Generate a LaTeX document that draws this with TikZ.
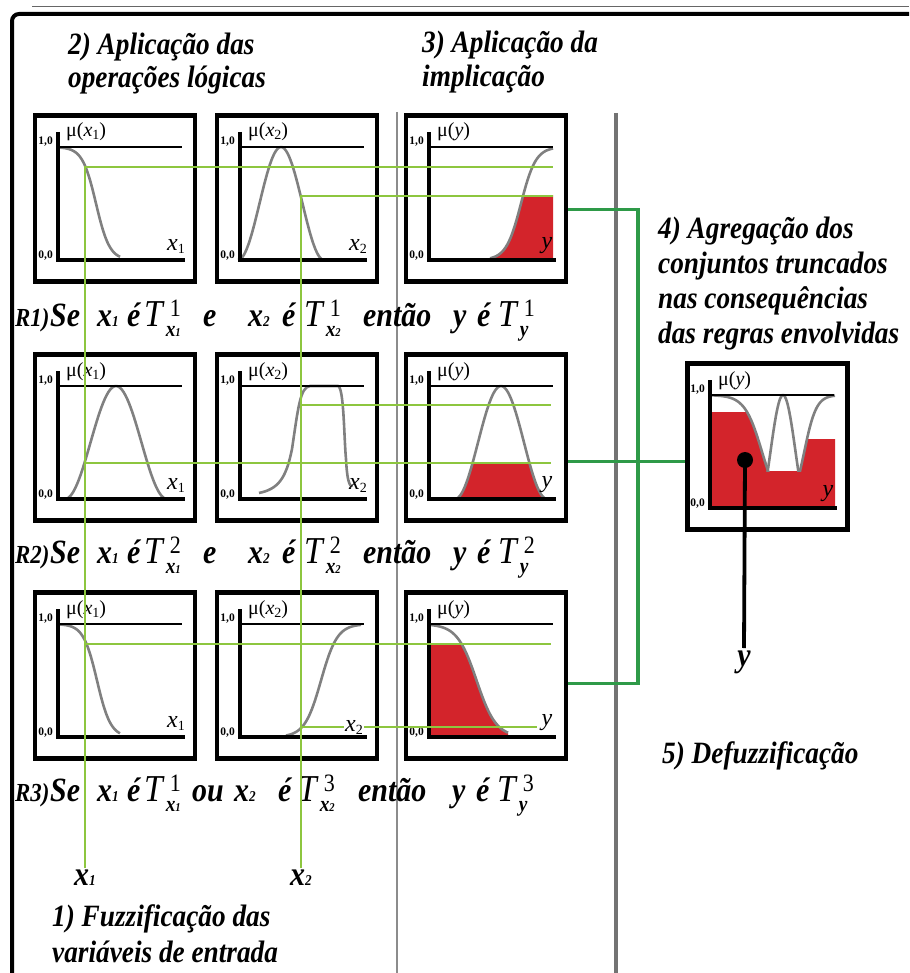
\documentclass[tikz,border=0pt]{standalone}
\usepackage{fontspec}
\setmainfont{Liberation Serif}
\newfontfamily\cond[FakeStretch=0.88]{Liberation Serif}
\usetikzlibrary{positioning}

\definecolor{lgreen}{RGB}{141,198,63}
\definecolor{dgreen}{RGB}{46,154,72}
\definecolor{fred}{RGB}{211,36,43}
\definecolor{cgray}{RGB}{128,128,128}

% pieces of the rule lines
\newcommand{\xin}[1]{x{\fontsize{15}{15}\selectfont #1}}
\newcommand{\xsb}[1]{{\fontsize{22}{22}\selectfont x\fontsize{12}{12}\selectfont #1}}
\newcommand{\Tset}[2]{{\fontsize{38}{38}\selectfont\mdseries T}\kern3pt\rlap{\kern4pt\raisebox{10pt}{\fontsize{25}{25}\selectfont\mdseries\upshape #1}}\raisebox{-10pt}{#2}}
\newcommand{\vsub}[2]{\textit{#1}\raisebox{-3pt}{\fontsize{14}{14}\selectfont #2}}

% axes of one small plot: name, mu label, axis label, width of the 1,0 line
\newcommand{\plotaxes}[4]{%
  \draw[line width=4pt] (0,-128) -- (0,0) -- (127,0);
  \draw[line width=#4] (1,-113) -- (124,-113);
  \node[tick, anchor=east] (#1-one) at (-5,-118) {1,0};
  \node[tick, anchor=east] (#1-zero) at (-5,-4) {0,0};
  \node[mulbl, anchor=base west] (#1-mu) at (8,-123) {#2};
  \node[varlbl] (#1-var) at (118,-14) {#3};
}

\begin{document}
\begin{tikzpicture}[x=1pt, y=-1pt,
    declare function={sgdn(\u,\c,\s)=113/(1+exp((\u-\c)/\s));
                      sgup(\u,\c,\s)=113/(1+exp((\c-\u)/\s));
                      bell(\u,\c,\w)=56.5*(1+cos(180*(\u-\c)/\w));},
    panel/.style={draw, line width=4.5pt, minimum width=160pt, minimum height=166pt, inner sep=0pt},
    curve/.style={cgray, line width=2.6pt},
    tick/.style={font=\fontsize{11.5}{12}\selectfont\bfseries, inner sep=0pt},
    mulbl/.style={font=\fontsize{20}{20}\selectfont, inner sep=0pt},
    varlbl/.style={font=\fontsize{24}{24}\selectfont, inner sep=1pt},
    ttl/.style={font=\fontsize{31}{33}\selectfont\cond\bfseries\itshape, align=left, inner sep=0pt, anchor=base west},
    rulelbl/.style={font=\fontsize{34}{34}\selectfont\cond\bfseries\itshape, inner sep=0pt, anchor=base west},
    inlbl/.style={font=\fontsize{34}{34}\selectfont\cond\bfseries\itshape, inner sep=1pt},
    cut/.style={lgreen, line width=2.8pt},
    conn/.style={dgreen, line width=3.8pt},
    septhin/.style={draw=black!45, line width=2pt},
    septhick/.style={draw=black!55, line width=3.5pt},
    dot/.style={circle, fill=black, minimum size=16pt, inner sep=0pt}
]
\useasboundingbox (0,0) rectangle (909,973);

% frame
\draw[black!60, line width=1pt] (32,7) -- (909,7);
\draw[line width=4pt, rounded corners=7pt] (909,14) -- (12,14) -- (12,973);
\draw[septhin] (397,112) -- (397,973);
\draw[septhick] (616,113) -- (616,973);

% titles (base = last line)
\node[ttl] (t2) at (68,88) {2) Aplicação das\\operações lógicas};
\node[ttl, font=\fontsize{31}{34}\selectfont\cond\bfseries\itshape] (t3) at (422,87) {3) Aplicação da\\implicação};
\node[ttl, font=\fontsize{31}{35}\selectfont\cond\bfseries\itshape] (t4) at (658,343)
  {4) Agregação dos\\conjuntos truncados\\nas consequências\\das regras envolvidas};
\node[ttl] (t5) at (662,763) {5) Defuzzificação};
\node[ttl, font=\fontsize{31}{36}\selectfont\cond\bfseries\itshape] (t1) at (52,962) {1) Fuzzificação das\\variáveis de entrada};

% panels
\foreach \c/\px in {1/115,2/297,3/486}
  \foreach \r/\py in {1/198.5,2/437.5,3/675.5}
    \node[panel] (p\r\c) at (\px,\py) {};
\node[panel] (agg) at (767.5,446.5) {};

% row 1
\begin{scope}[shift={(58,260)}]
  \draw[curve] plot[domain=0:62, samples=50] (\x,{-sgdn(\x,38,6.8)});
  \plotaxes{a11}{μ(\vsub{x}{1})}{\vsub{x}{1}}{2.5pt}
\end{scope}
\begin{scope}[shift={(240,260)}]
  \draw[curve] plot[domain=-2:84, samples=60] (\x,{-bell(\x,41,43)});
  \plotaxes{a12}{μ(\vsub{x}{2})}{\vsub{x}{2}}{2.5pt}
\end{scope}
\begin{scope}[shift={(429,260)}]
  \begin{scope}
    \clip (0,-64) rectangle (124,0);
    \fill[fred] plot[domain=61:124, samples=50] (\x,{-sgup(\x,92,7.43)}) -- (124,0) -- cycle;
  \end{scope}
  \draw[curve] plot[domain=61:124, samples=50] (\x,{-sgup(\x,92,7.43)});
  \plotaxes{a13}{μ(\textit{y})}{\textit{y}}{1.5pt}
\end{scope}

% row 2
\begin{scope}[shift={(58,499)}]
  \draw[curve] plot[domain=7:109, samples=60] (\x,{-bell(\x,58,51)});
  \plotaxes{a21}{μ(\vsub{x}{1})}{\vsub{x}{1}}{2.5pt}
\end{scope}
\begin{scope}[shift={(240,499)}]
  \draw[curve] (19,-6) .. controls (38,-10) and (46,-20) .. (52,-50)
    .. controls (58,-90) and (60,-112) .. (70,-113) -- (98,-113)
    .. controls (104,-112) and (104,-60) .. (106,-40)
    .. controls (107,-20) and (109,-14) .. (112,-12);
  \plotaxes{a22}{μ(\vsub{x}{2})}{\vsub{x}{2}}{2.5pt}
\end{scope}
\begin{scope}[shift={(429,499)}]
  \begin{scope}
    \clip (0,-35) rectangle (124,0);
    \fill[fred] plot[domain=26:118, samples=60] (\x,{-bell(\x,72,46)}) -- cycle;
  \end{scope}
  \draw[curve] plot[domain=26:118, samples=60] (\x,{-bell(\x,72,46)});
  \plotaxes{a23}{μ(\textit{y})}{\textit{y}}{1.5pt}
\end{scope}

% row 3
\begin{scope}[shift={(58,737)}]
  \draw[curve] plot[domain=0:62, samples=50] (\x,{-sgdn(\x,39,6.8)});
  \plotaxes{a31}{μ(\vsub{x}{1})}{\vsub{x}{1}}{2.5pt}
\end{scope}
\begin{scope}[shift={(240,737)}]
  \draw[curve] plot[domain=46:121, samples=50] (\x,{-sgup(\x,81,8.15)});
  \plotaxes{a32}{μ(\vsub{x}{2})}{}{2.5pt}
\end{scope}
\begin{scope}[shift={(429,737)}]
  \begin{scope}
    \clip (0,-94) rectangle (124,0);
    \fill[fred] plot[domain=0:79, samples=50] (\x,{-sgdn(\x,47.6,9.75)}) -- (79,0) -- (0,0) -- cycle;
  \end{scope}
  \draw[curve] plot[domain=0:79, samples=50] (\x,{-sgdn(\x,47.6,9.75)});
  \plotaxes{a33}{μ(\textit{y})}{\textit{y}}{1.5pt}
\end{scope}

% aggregated set
\begin{scope}[shift={(710,508)}]
  \begin{scope}
    \clip (0,-96) rectangle (125,0);
    \fill[fred] plot[domain=0:62, samples=40] (\x,{-sgdn(\x,51.9,8.6)}) -- (62,0) -- (0,0) -- cycle;
  \end{scope}
  \fill[fred] (0,-37) rectangle (125,0);
  \begin{scope}
    \clip (0,-69) rectangle (125,0);
    \fill[fred] plot[domain=84:125, samples=40] (\x,{-sgup(\x,94.3,6)}) -- (125,0) -- (84,0) -- cycle;
  \end{scope}
  \begin{scope}
    \clip (0,-140) rectangle (125,-37);
    \draw[curve] plot[domain=0:62, samples=40] (\x,{-sgdn(\x,51.9,8.6)});
    \draw[curve] plot[domain=48:98, samples=40] (\x,{-bell(\x,73,25)});
    \draw[curve] plot[domain=84:125, samples=40] (\x,{-sgup(\x,94.3,6)});
  \end{scope}
  \plotaxes{ag}{μ(\textit{y})}{\textit{y}}{1.5pt}
\end{scope}

% rules
\node[rulelbl] (r1) at (15,326) {\makebox[35pt][l]{\fontsize{26}{26}\selectfont R1)}\makebox[47pt][l]{Se}\makebox[30pt][l]{\xin{1}}\makebox[17pt][l]{é}\makebox[59pt][l]{\Tset{1}{\xsb{1}}}\makebox[45pt][l]{e}\makebox[34pt][l]{\xin{2}}\makebox[22pt][l]{é}\makebox[59pt][l]{\Tset{1}{\xsb{2}}}\makebox[90pt][l]{então}\makebox[24pt][l]{y}\makebox[21pt][l]{é}\Tset{1}{\fontsize{22}{22}\selectfont y}};
\node[rulelbl] (r2) at (15,563) {\makebox[35pt][l]{\fontsize{26}{26}\selectfont R2)}\makebox[47pt][l]{Se}\makebox[30pt][l]{\xin{1}}\makebox[17pt][l]{é}\makebox[59pt][l]{\Tset{2}{\xsb{1}}}\makebox[45pt][l]{e}\makebox[34pt][l]{\xin{2}}\makebox[22pt][l]{é}\makebox[59pt][l]{\Tset{2}{\xsb{2}}}\makebox[90pt][l]{então}\makebox[24pt][l]{y}\makebox[21pt][l]{é}\Tset{2}{\fontsize{22}{22}\selectfont y}};
\node[rulelbl] (r3) at (15,801) {\makebox[35pt][l]{\fontsize{26}{26}\selectfont R3)}\makebox[47pt][l]{Se}\makebox[30pt][l]{\xin{1}}\makebox[17pt][l]{é}\makebox[48pt][l]{\Tset{1}{\xsb{1}}}\makebox[42pt][l]{ou}\makebox[44pt][l]{\xin{2}}\makebox[20pt][l]{é}\makebox[60pt][l]{\Tset{3}{\xsb{2}}}\makebox[94pt][l]{então}\makebox[24pt][l]{y}\makebox[21pt][l]{é}\Tset{3}{\fontsize{22}{22}\selectfont y}};

% inputs and cuts
\coordinate (in1) at (85,868);
\coordinate (in2) at (301,868);
\draw[cut] (in1) |- (553,167);
\draw[cut] (in2) |- (553,196);
\draw[cut] (301,405) -- (551,405);
\draw[cut] (85,463) -- (551,463);
\draw[cut] (85,644) -- (551,644);
\draw[cut] (301,727) -- (537,727);
\node[varlbl, fill=white] (a32-var) at (354,727) {\vsub{x}{2}};
\node[inlbl, below=1pt of in1] (lx1) {\xin{1}};
\node[inlbl, below=1pt of in2] (lx2) {\xin{2}};

% truncated sets to the aggregation
\draw[conn] ([yshift=-11pt]p13.east) -- ++(70,0) |- ([yshift=-8pt]p33.east);
\draw[conn] ([yshift=-24pt]p23.east) -- ([yshift=-15pt]agg.west);

% defuzzified output
\node[dot] (cog) at (745,460) {};
\node[inlbl, anchor=north, inner sep=3pt] (yout) at (744,648) {y};
\draw[line width=3.8pt] (cog.center) -- (yout.north);
\end{tikzpicture}
\end{document}
